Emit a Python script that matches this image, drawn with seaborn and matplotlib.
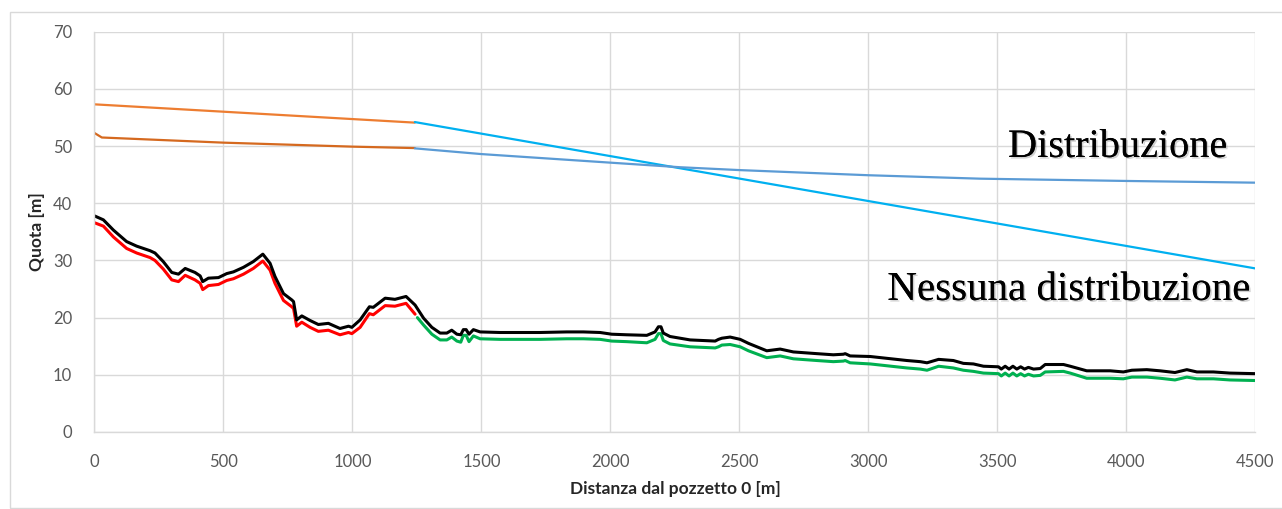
import numpy as np
import pandas as pd
import matplotlib
matplotlib.use("Agg")
import matplotlib.pyplot as plt
import matplotlib.patheffects as pe
import seaborn as sns

# ----------------- data -----------------
x_black = [0, 35, 74, 125, 164, 216, 235, 267, 300, 326, 352, 390, 410, 420, 442, 481, 513, 539,
           578, 616, 653, 681, 700, 733, 765, 772, 784, 804, 836, 868, 907, 952, 985, 998, 1030,
           1066, 1081, 1127, 1165, 1208, 1243, 1276, 1308, 1340, 1366, 1385, 1405, 1420, 1430,
           1441, 1452, 1469, 1495, 1572, 1727, 1831, 1895, 1960, 2005, 2063, 2141, 2173, 2186,
           2196, 2205, 2231, 2309, 2406, 2419, 2432, 2464, 2503, 2535, 2606, 2658, 2709, 2800,
           2864, 2903, 2910, 2929, 3007, 3149, 3201, 3227, 3272, 3329, 3368, 3407, 3446, 3504,
           3515, 3530, 3545, 3560, 3575, 3590, 3605, 3620, 3640, 3666, 3685, 3756, 3782, 3846,
           3937, 3988, 4021, 4079, 4130, 4188, 4234, 4273, 4337, 4401, 4500]
y_black = [37.8, 37.1, 35.3, 33.3, 32.5, 31.7, 31.3, 29.8, 27.9, 27.6, 28.6, 27.9, 27.3, 26.3, 26.9,
           27.0, 27.7, 28.0, 28.8, 29.8, 31.1, 29.5, 27.2, 24.2, 23.1, 22.8, 19.6, 20.3, 19.5, 18.8,
           19.0, 18.1, 18.5, 18.3, 19.6, 21.9, 21.8, 23.4, 23.2, 23.7, 22.2, 19.9, 18.3, 17.3, 17.3,
           17.8, 17.1, 17.0, 17.9, 17.9, 17.1, 17.9, 17.5, 17.4, 17.4, 17.5, 17.5, 17.4, 17.1, 17.0,
           16.9, 17.5, 18.4, 18.4, 17.3, 16.7, 16.1, 15.9, 16.2, 16.4, 16.6, 16.2, 15.5, 14.2, 14.5,
           14.0, 13.7, 13.5, 13.6, 13.7, 13.3, 13.2, 12.5, 12.3, 12.1, 12.7, 12.5, 12.0, 11.9, 11.5,
           11.4, 11.0, 11.5, 11.0, 11.5, 11.0, 11.4, 11.0, 11.3, 11.0, 11.1, 11.8, 11.8, 11.5, 10.7,
           10.7, 10.5, 10.8, 10.9, 10.7, 10.4, 10.9, 10.5, 10.5, 10.3, 10.2]

x_red = [0, 35, 74, 125, 164, 216, 235, 267, 300, 326, 352, 390, 410, 420, 442, 481, 513, 539,
         578, 616, 653, 681, 700, 733, 765, 772, 784, 804, 836, 868, 907, 952, 985, 998, 1030,
         1066, 1081, 1127, 1165, 1208, 1243]
y_red = [36.6, 36.0, 34.1, 32.1, 31.3, 30.5, 30.0, 28.5, 26.6, 26.3, 27.4, 26.6, 26.0, 24.9, 25.6,
         25.8, 26.5, 26.8, 27.6, 28.6, 29.9, 28.3, 26.0, 23.0, 21.9, 21.6, 18.5, 19.2, 18.3, 17.6,
         17.8, 17.0, 17.4, 17.2, 18.3, 20.7, 20.5, 22.1, 22.0, 22.5, 20.6]

x_green = [1252, 1276, 1308, 1340, 1366, 1385, 1405, 1420, 1430, 1441, 1452, 1469, 1495, 1572,
           1727, 1831, 1895, 1960, 2005, 2063, 2141, 2173, 2186, 2196, 2205, 2231, 2309, 2406,
           2419, 2432, 2464, 2503, 2535, 2606, 2658, 2709, 2800, 2864, 2903, 2910, 2929, 3007,
           3149, 3201, 3227, 3272, 3329, 3368, 3407, 3446, 3504, 3515, 3530, 3545, 3560, 3575,
           3590, 3605, 3620, 3640, 3666, 3685, 3756, 3782, 3846, 3937, 3988, 4021, 4079, 4130,
           4188, 4234, 4273, 4337, 4401, 4500]
y_green = [20.0, 18.7, 17.1, 16.1, 16.1, 16.6, 15.9, 15.7, 16.9, 16.9, 15.8, 16.8, 16.3, 16.2,
           16.2, 16.3, 16.3, 16.2, 15.9, 15.8, 15.6, 16.2, 17.2, 17.2, 16.0, 15.4, 14.9, 14.7,
           14.9, 15.2, 15.3, 14.9, 14.2, 13.0, 13.3, 12.8, 12.5, 12.3, 12.4, 12.5, 12.1, 11.9,
           11.2, 11.0, 10.8, 11.5, 11.2, 10.8, 10.6, 10.3, 10.2, 9.8, 10.3, 9.8, 10.3, 9.8,
           10.2, 9.8, 10.1, 9.8, 9.9, 10.5, 10.6, 10.3, 9.4, 9.4, 9.3, 9.6, 9.6, 9.4,
           9.1, 9.6, 9.3, 9.3, 9.1, 9.0]

x_orange_up = [0, 1242]
y_orange_up = [57.3, 54.1]
x_orange_low = [0, 29, 500, 1000, 1242]
y_orange_low = [52.3, 51.5, 50.6, 49.9, 49.65]

x_lightblue = [1242, 4500]
y_lightblue = [54.2, 28.6]
x_blue = [1242, 1500, 2000, 2270, 2500, 3000, 3432, 4000, 4500]
y_blue = [49.6, 48.6, 47.1, 46.3, 45.8, 44.9, 44.3, 43.9, 43.6]

x_ticks = [0, 500, 1000, 1500, 2000, 2500, 3000, 3500, 4000, 4500]
y_ticks = [0, 10, 20, 30, 40, 50, 60, 70]

# ----------------- plot -----------------
sns.set_theme(style="white")
plt.rcParams['font.family'] = ['Lato', 'DejaVu Sans']

fig = plt.figure(figsize=(12.82, 5.09), dpi=100)
ax = fig.add_axes([0.0736, 0.1513, 0.9057, 0.7864])

series = [
    (x_orange_up, y_orange_up, "#ED7D31", 1.6),
    (x_orange_low, y_orange_low, "#D5691F", 1.6),
    (x_lightblue, y_lightblue, "#00B0F0", 1.6),
    (x_blue, y_blue, "#5B9BD5", 1.6),
    (x_red, y_red, "#FF0000", 2.2),
    (x_green, y_green, "#00B050", 2.2),
    (x_black, y_black, "#000000", 2.2),
]
for xs, ys, col, lw in series:
    sns.lineplot(x=xs, y=ys, color=col, lw=lw, ax=ax, sort=False, estimator=None)

ax.set_xlim(0, 4500)
ax.set_ylim(0, 70)
ax.set_xticks(x_ticks)
ax.set_yticks(y_ticks)
ax.grid(True, color="#D9D9D9", lw=1)
ax.set_axisbelow(True)
for side in ["top", "right"]:
    ax.spines[side].set_visible(False)
for side in ["left", "bottom"]:
    ax.spines[side].set_color("#D9D9D9")
    ax.spines[side].set_linewidth(1)
ax.tick_params(axis="both", length=0, labelsize=12, labelcolor="#595959")
ax.tick_params(axis="x", pad=16)
ax.tick_params(axis="y", pad=16)

ax.set_xlabel("Distanza dal pozzetto 0 [m]", fontsize=12.5, fontweight="bold", labelpad=8)
ax.set_ylabel("Quota [m]", fontsize=12.5, fontweight="bold", labelpad=6)

shadow = [pe.withSimplePatchShadow(offset=(1.2, -1.2), shadow_rgbFace="gray", alpha=0.35), pe.Normal()]
ax.text(3966, 48.1, "Distribuzione", ha="center", va="baseline", fontsize=29,
        family="Liberation Serif", color="black", path_effects=shadow)
ax.text(3778, 23.1, "Nessuna distribuzione", ha="center", va="baseline", fontsize=29.5,
        family="Liberation Serif", color="black", path_effects=shadow)

# outer chart frame
fig.patches.append(plt.Rectangle((10 / 1282, 1 / 509), 1280 / 1282, 496 / 509,
                                 transform=fig.transFigure, fill=False,
                                 edgecolor="#D9D9D9", lw=1))

fig.savefig("out.png", dpi=100)
